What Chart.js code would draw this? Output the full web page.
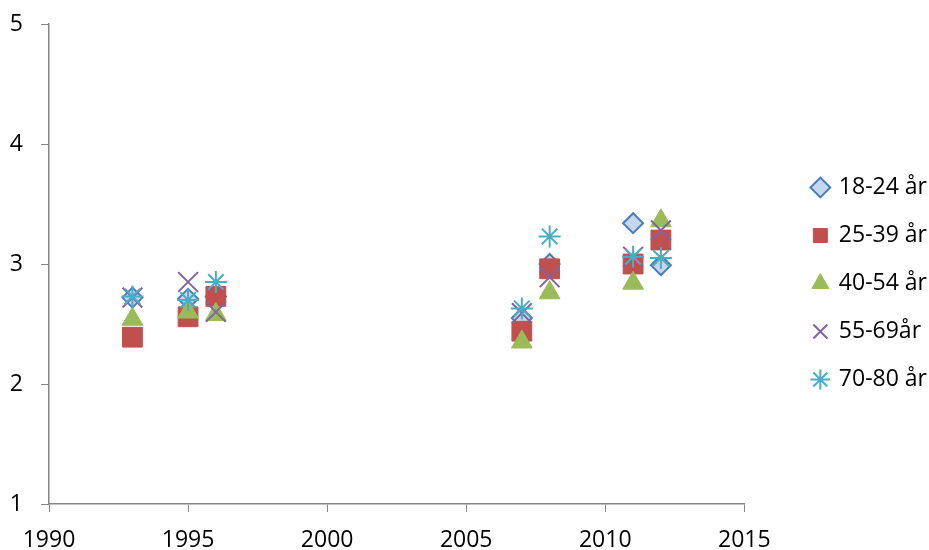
<!DOCTYPE html>
<html>
<head>
<meta charset="utf-8">
<script src="https://cdn.jsdelivr.net/npm/chart.js@4"></script>
<style>
  html, body { margin: 0; padding: 0; background: #fff; }
  #wrap { width: 929px; height: 550px; }
</style>
</head>
<body>
<div id="wrap"><canvas id="scatter-chart"></canvas></div>
<script>
// survey years
let years = [1993, 1995, 1996, 2007, 2008, 2011, 2012];

// age groups
let groups = ['18-24 år', '25-39 år', '40-54 år', '55-69år', '70-80 år'];

let age_18_24 = [2.72, 2.71, 2.73, 2.55, 3.00, 3.34, 2.99];
let age_25_39 = [2.39, 2.56, 2.73, 2.44, 2.96, 3.00, 3.20];
let age_40_54 = [2.54, 2.60, 2.58, 2.35, 2.76, 2.84, 3.36];
let age_55_69 = [2.72, 2.85, 2.60, 2.59, 2.89, 3.06, 3.28];
let age_70_80 = [2.73, 2.70, 2.85, 2.63, 3.23, 3.06, 3.05];

let xTicks = [1990, 1995, 2000, 2005, 2010, 2015];
let yTicks = [1, 2, 3, 4, 5];

function toPoints(values) {
    return years.map((y, i) => ({ x: y, y: values[i] }));
}

let fontFamily = "'Open Sans', 'Noto Sans', sans-serif";

new Chart(document.getElementById('scatter-chart'), {
    type: 'scatter',
    data: {
        datasets: [
            {
                label: groups[0],
                data: toPoints(age_18_24),
                pointStyle: 'rectRot',
                pointRadius: 10,
                pointHoverRadius: 10,
                backgroundColor: '#c6d6ef',
                borderColor: '#4a7ebb',
                borderWidth: 2,
                order: 4
            },
            {
                label: groups[1],
                data: toPoints(age_25_39),
                pointStyle: 'rect',
                pointRadius: 14,
                pointHoverRadius: 14,
                backgroundColor: '#c0504d',
                borderColor: '#c0504d',
                borderWidth: 1,
                order: 3
            },
            {
                label: groups[2],
                data: toPoints(age_40_54),
                pointStyle: 'triangle',
                pointRadius: 12,
                pointHoverRadius: 12,
                backgroundColor: '#9bbb59',
                borderColor: '#9bbb59',
                borderWidth: 1,
                order: 2
            },
            {
                label: groups[3],
                data: toPoints(age_55_69),
                pointStyle: 'crossRot',
                pointRadius: 14,
                pointHoverRadius: 14,
                backgroundColor: '#8064a2',
                borderColor: '#8064a2',
                borderWidth: 2,
                order: 1
            },
            {
                label: groups[4],
                data: toPoints(age_70_80),
                pointStyle: 'star',
                pointRadius: 11,
                pointHoverRadius: 11,
                backgroundColor: '#4bacc6',
                borderColor: '#4bacc6',
                borderWidth: 2,
                order: 0
            }
        ]
    },
    options: {
        responsive: true,
        maintainAspectRatio: false,
        animation: false,
        layout: {
            padding: { left: 0, top: 1, right: -8, bottom: -16 }
        },
        plugins: {
            title: { display: false },
            tooltip: { enabled: false },
            legend: {
                position: 'right',
                labels: {
                    usePointStyle: true,
                    boxWidth: 14,
                    boxHeight: 14,
                    padding: 25,
                    color: '#000',
                    font: { family: fontFamily, size: 23 },
                    sort: (a, b) => a.datasetIndex - b.datasetIndex
                }
            }
        },
        scales: {
            x: {
                type: 'linear',
                min: 1990,
                max: 2015,
                afterBuildTicks: axis => { axis.ticks = xTicks.map(v => ({ value: v })); },
                afterFit: axis => { axis.height = 62; },
                grid: {
                    display: true,
                    drawOnChartArea: false,
                    drawTicks: true,
                    tickLength: 8,
                    color: '#868686'
                },
                border: { display: true, color: '#868686', width: 1.5 },
                ticks: {
                    color: '#000',
                    padding: 15,
                    maxRotation: 0,
                    font: { family: fontFamily, size: 23 },
                    callback: v => String(v)
                }
            },
            y: {
                min: 1,
                max: 5,
                afterBuildTicks: axis => { axis.ticks = yTicks.map(v => ({ value: v })); },
                afterFit: axis => {
                    axis.width = 49;
                    axis.paddingTop = 24;
                },
                grid: {
                    display: true,
                    drawOnChartArea: false,
                    drawTicks: true,
                    tickLength: 8,
                    color: '#868686'
                },
                border: { display: true, color: '#868686', width: 1.5 },
                ticks: {
                    color: '#000',
                    padding: 18,
                    font: { family: fontFamily, size: 23 }
                }
            },
            // empty space between plot and legend
            gap: {
                axis: 'y',
                position: 'right',
                min: 0,
                max: 1,
                afterFit: axis => { axis.width = 44; },
                grid: { display: false },
                border: { display: false },
                ticks: { display: false }
            }
        }
    }
});
</script>
</body>
</html>
